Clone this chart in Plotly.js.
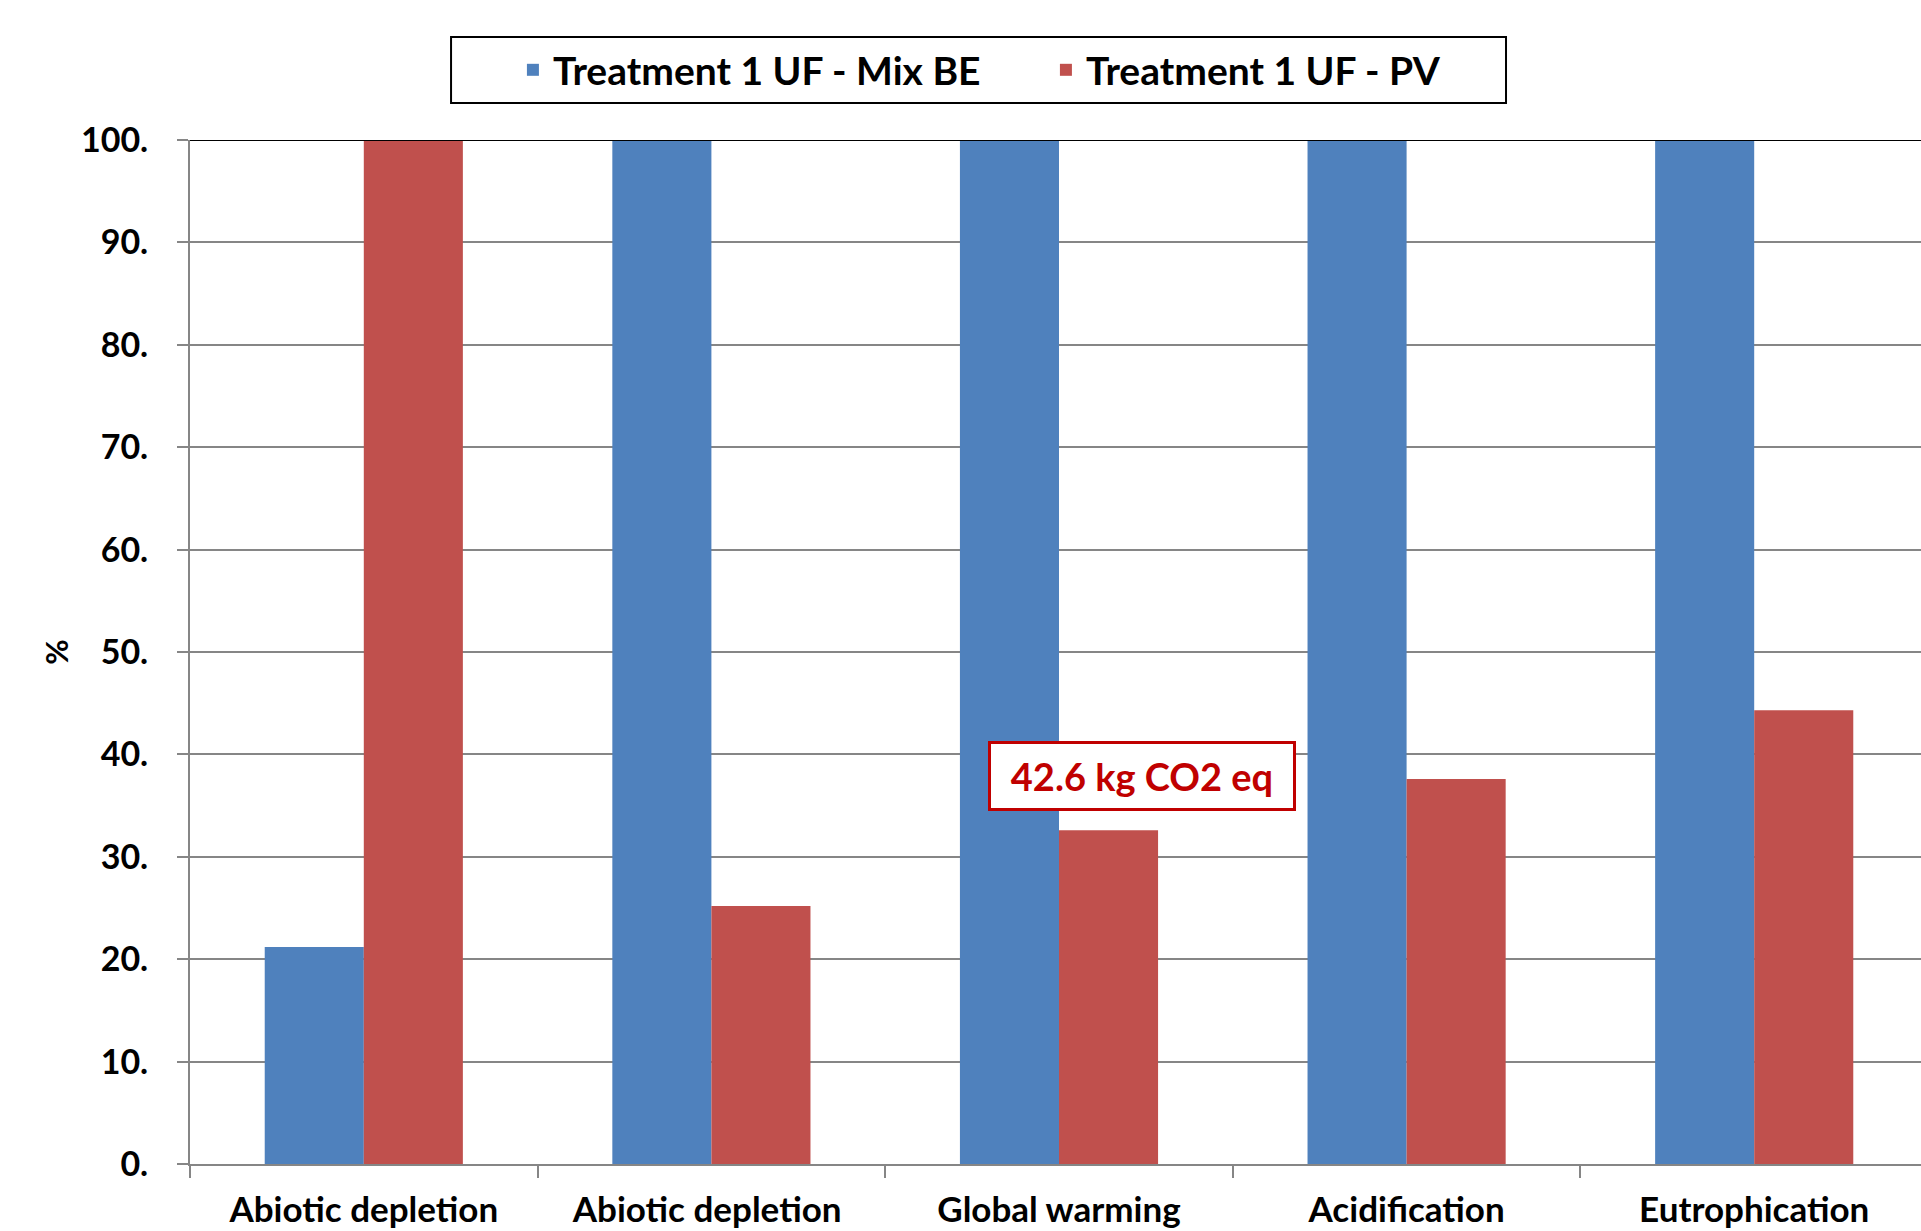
<!DOCTYPE html>
<html>
<head>
<meta charset="utf-8">
<script src="https://cdn.plot.ly/plotly-3.0.1.min.js"></script>
<style>
html, body { margin: 0; padding: 0; overflow: hidden; background: #fff; }
#chart { width: 1940px; height: 1231px; }
</style>
</head>
<body>
<div id="chart"></div>
<script>
const categories = ["Abiotic depletion", "Abiotic depletion ", "Global warming", "Acidification", "Eutrophication"];
const seriesNames = ["Treatment 1 UF - Mix BE", "Treatment 1 UF - PV"];
const mixBE = [21.2, 100, 100, 100, 100];
const pv = [100, 25.2, 32.6, 37.6, 44.3];
const yTickValues = [0, 10, 20, 30, 40, 50, 60, 70, 80, 90, 100];
const yTickLabels = yTickValues.map(v => v + ".");
const calloutText = "42.6 kg CO2 eq";

const FONT = "Lato, 'Open Sans', sans-serif";

const traces = [
  { type: "bar", name: seriesNames[0], x: categories, y: mixBE,
    marker: { color: "#4F81BD", line: { width: 0 } }, hoverinfo: "skip" },
  { type: "bar", name: seriesNames[1], x: categories, y: pv,
    marker: { color: "#C0504D", line: { width: 0 } }, hoverinfo: "skip" }
];

const layout = {
  width: 1940, height: 1231,
  margin: { l: 190, r: 12, t: 140, b: 67 },
  paper_bgcolor: "#ffffff", plot_bgcolor: "#ffffff",
  font: { family: FONT, color: "#000", size: 34, weight: 700 },
  barmode: "group", bargap: 0.43, bargroupgap: 0,
  showlegend: true,
  legend: {
    orientation: "h", x: 0.1858, xanchor: "left", y: 1.0684, yanchor: "middle",
    borderwidth: 0, bgcolor: "rgba(0,0,0,0)",
    font: { family: FONT, size: 39, weight: 700, color: "#000" },
    entrywidth: 488, entrywidthmode: "pixels",
    traceorder: "normal"
  },
  xaxis: {
    type: "category", range: [-0.5, 4.5],
    showline: true, linecolor: "#868686", linewidth: 2,
    ticks: "outside", tickson: "boundaries", ticklen: 12, tickwidth: 2, tickcolor: "#868686",
    showgrid: false, zeroline: false,
    tickfont: { family: FONT, size: 35, weight: 700, color: "#000" },
    ticklabelstandoff: 14, automargin: false
  },
  yaxis: {
    range: [0, 100], tickvals: yTickValues, ticktext: yTickLabels,
    showline: true, linecolor: "#868686", linewidth: 2,
    ticks: "outside", ticklen: 11, tickwidth: 2, tickcolor: "#868686",
    showgrid: true, gridcolor: "#868686", gridwidth: 2, zeroline: false,
    tickfont: { family: FONT, size: 34, weight: 700, color: "#000" },
    ticklabelstandoff: 22, automargin: false,
    title: { text: "%", font: { family: FONT, size: 31, weight: 700, color: "#000" }, standoff: 3 }
  },
  shapes: [
    { type: "line", xref: "paper", yref: "y", x0: 0, x1: 1, y0: 100, y1: 100,
      line: { color: "#000", width: 2 }, layer: "above" },
    { type: "rect", xref: "paper", yref: "paper", x0: 0.1502, x1: 0.7572, y0: 1.0361, y1: 1.1006,
      line: { color: "#000", width: 2 }, fillcolor: "rgba(0,0,0,0)", layer: "above" }
  ],
  annotations: [
    { xref: "x", yref: "y", x: 2.24, y: 37.9, text: calloutText, showarrow: false,
      font: { family: FONT, size: 38, weight: 700, color: "#C00000" },
      bgcolor: "#fff", bordercolor: "#C00000", borderwidth: 3, borderpad: 3,
      width: 296, height: 58, align: "center", valign: "middle",
      xanchor: "center", yanchor: "middle" }
  ]
};

Plotly.newPlot("chart", traces, layout, { displayModeBar: false, staticPlot: true });
</script>
</body>
</html>
